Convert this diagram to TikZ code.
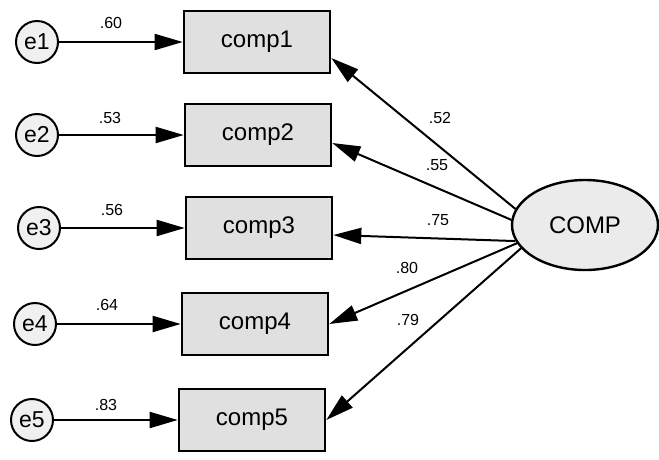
\documentclass[tikz,border=0pt]{standalone}
\usepackage{fontspec}
\setmainfont{Liberation Sans}
\usetikzlibrary{arrows.meta,shapes.geometric,calc}
\begin{document}
\begin{tikzpicture}[x=1pt,y=-1pt,
  obs/.style={draw,line width=2.6pt,fill=gray!24,minimum width=146pt,minimum height=62pt,inner sep=0pt,font=\fontsize{24}{24}\selectfont},
  err/.style={circle,draw,line width=2pt,fill=gray!12,minimum size=42pt,inner sep=0pt,font=\fontsize{23}{23}\selectfont},
  lat/.style={ellipse,draw,line width=2.4pt,fill=gray!16,minimum width=146pt,minimum height=90pt,inner sep=0pt,font=\fontsize{24}{24}\selectfont},
  link/.style={line width=2pt,-{Triangle[length=28pt,width=16pt]}},
  coef/.style={font=\fontsize{16}{16}\selectfont,inner sep=0pt}
]
\useasboundingbox (0,0) rectangle (659,459);

% observed indicators
\node[obs] (c1) at (257,42)  {comp1};
\node[obs] (c2) at (258,135) {comp2};
\node[obs] (c3) at (259,228) {comp3};
\node[obs] (c4) at (255,324) {comp4};
\node[obs] (c5) at (252,420) {comp5};

% error terms
\node[err] (e1) at (37,42)  {e1};
\node[err] (e2) at (37,135) {e2};
\node[err] (e3) at (39,228) {e3};
\node[err] (e4) at (35,324) {e4};
\node[err] (e5) at (32,420) {e5};

% latent factor
\node[lat] (COMP) at (585,225) {COMP};

% error paths
\draw[link] (e1) -- (c1);
\draw[link] (e2) -- (c2);
\draw[link] (e3) -- (c3);
\draw[link] (e4) -- (c4);
\draw[link] (e5) -- (c5);

% loadings
\draw[link] (COMP.167) -- ($(c1.east)+(0,16)$);
\draw[link] (COMP.176) -- ($(c2.east)+(0,8)$);
\draw[link] (COMP.193) -- ($(c3.east)+(0,7)$);
\draw[link] (COMP.195) -- (c4.east);
\draw[link] (COMP.200) -- (c5.east);

% coefficients on error paths
\node[coef] (l1) at (111,23)  {.60};
\node[coef] (l2) at (110,118) {.53};
\node[coef] (l3) at (112,210) {.56};
\node[coef] (l4) at (107,305) {.64};
\node[coef] (l5) at (106,405) {.83};

% coefficients on loadings
\node[coef] (k1) at (440,118) {.52};
\node[coef] (k2) at (437,165) {.55};
\node[coef] (k3) at (438,220) {.75};
\node[coef] (k4) at (407,268) {.80};
\node[coef] (k5) at (408,320) {.79};
\end{tikzpicture}
\end{document}
